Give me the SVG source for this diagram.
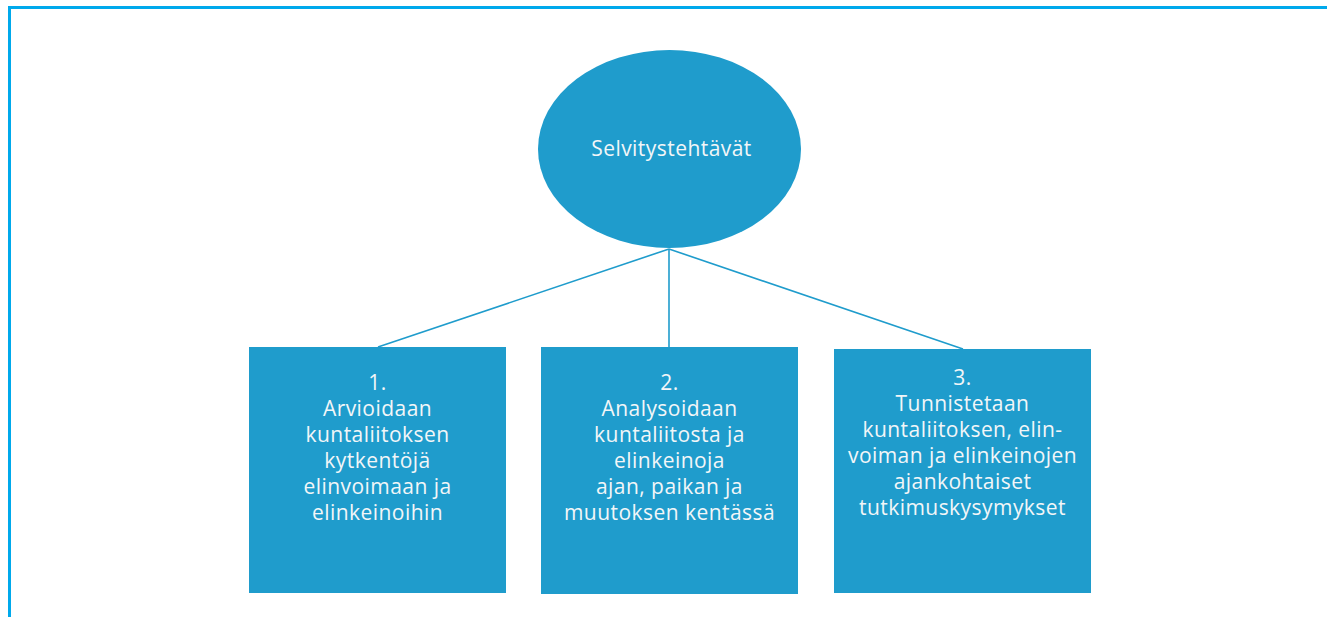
<svg xmlns="http://www.w3.org/2000/svg" width="1327" height="617" viewBox="0 0 1327 617">
<style>
.frame{fill:none;stroke:#00A9EC;stroke-width:3}
.node{fill:#1F9CCC}
.conn{stroke:#1F9CCC;stroke-width:1.6;fill:none}
.t{font-family:"Open Sans","Noto Sans","Liberation Sans",sans-serif;font-size:21px;letter-spacing:0.45px;fill:#F2F6F8;text-anchor:middle}
</style>
<rect width="1327" height="617" fill="#FFFFFF"/>
<path class="frame" d="M9.5,617 V7.5 H1327"/>
<g id="connectors">
<line class="conn" x1="669" y1="249" x2="378" y2="347"/>
<line class="conn" x1="669" y1="249" x2="669" y2="347"/>
<line class="conn" x1="669" y1="249" x2="963" y2="349"/>
</g>
<g id="root">
<ellipse class="node" cx="669.5" cy="149" rx="131.5" ry="99"/>
<text class="t" x="671.5" y="156">Selvitystehtävät</text>
</g>
<g id="task1">
<rect class="node" x="249" y="347" width="257" height="246"/>
<text class="t" x="377.5" y="390">1.</text>
<text class="t" x="377.5" y="416">Arvioidaan</text>
<text class="t" x="377.5" y="442">kuntaliitoksen</text>
<text class="t" x="377.5" y="468">kytkentöjä</text>
<text class="t" x="377.5" y="494">elinvoimaan ja</text>
<text class="t" x="377.5" y="520">elinkeinoihin</text>
</g>
<g id="task2">
<rect class="node" x="541" y="347" width="257" height="247"/>
<text class="t" x="669.5" y="390">2.</text>
<text class="t" x="669.5" y="416">Analysoidaan</text>
<text class="t" x="669.5" y="442">kuntaliitosta ja</text>
<text class="t" x="669.5" y="468">elinkeinoja</text>
<text class="t" x="669.5" y="494">ajan, paikan ja</text>
<text class="t" x="669.5" y="520">muutoksen kentässä</text>
</g>
<g id="task3">
<rect class="node" x="834" y="349" width="257" height="244"/>
<text class="t" x="962.5" y="385">3.</text>
<text class="t" x="962.5" y="411">Tunnistetaan</text>
<text class="t" x="962.5" y="437">kuntaliitoksen, elin-</text>
<text class="t" x="962.5" y="463">voiman ja elinkeinojen</text>
<text class="t" x="962.5" y="489">ajankohtaiset</text>
<text class="t" x="962.5" y="515">tutkimuskysymykset</text>
</g>
</svg>
